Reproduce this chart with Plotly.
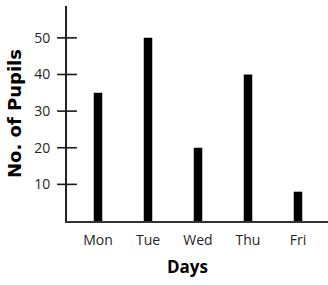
import plotly.graph_objects as go

days = ["Mon", "Tue", "Wed", "Thu", "Fri"]
pupils = [35, 50, 20, 40, 8]
y_ticks = [10, 20, 30, 40, 50]

fig = go.Figure()
fig.add_trace(go.Bar(x=days, y=pupils, marker=dict(color="black", line=dict(width=0)),
                     width=0.17, showlegend=False, hoverinfo="skip"))

# tick marks crossing the y axis (both sides)
for v in y_ticks:
    fig.add_shape(type="line", xref="paper", x0=-0.038, x1=0.038, yref="y", y0=v, y1=v,
                  line=dict(color="#1a1a1a", width=1.6), layer="above")

fig.update_layout(
    width=328, height=285,
    margin=dict(l=67, r=0, t=6, b=64),
    plot_bgcolor="white", paper_bgcolor="white",
    xaxis=dict(
        type="category", range=[-0.62, 4.6],
        showgrid=False, zeroline=False,
        showline=True, linecolor="#333333", linewidth=1.5,
        ticks="", ticklabelstandoff=5,
        tickfont=dict(family="Open Sans", size=14, color="#262626"),
    ),
    yaxis=dict(
        range=[0, 58.7], tickvals=y_ticks, ticktext=[str(v) for v in y_ticks],
        showgrid=False, zeroline=False,
        showline=True, linecolor="#222222", linewidth=1.8,
        ticks="", ticklabelstandoff=12,
        tickfont=dict(family="Open Sans", size=14, color="#262626"),
        title=dict(text="No. of Pupils", font=dict(family="DejaVu Sans", size=18, color="black",
                                                  weight="bold"), standoff=8),
    ),
    annotations=[dict(
        text="<b>Days</b>", xref="paper", yref="paper", x=0.46, y=-0.21,
        xanchor="center", yanchor="middle", showarrow=False,
        font=dict(family="Open Sans", size=17, color="black"),
    )],
)

fig.write_html("out.html")
